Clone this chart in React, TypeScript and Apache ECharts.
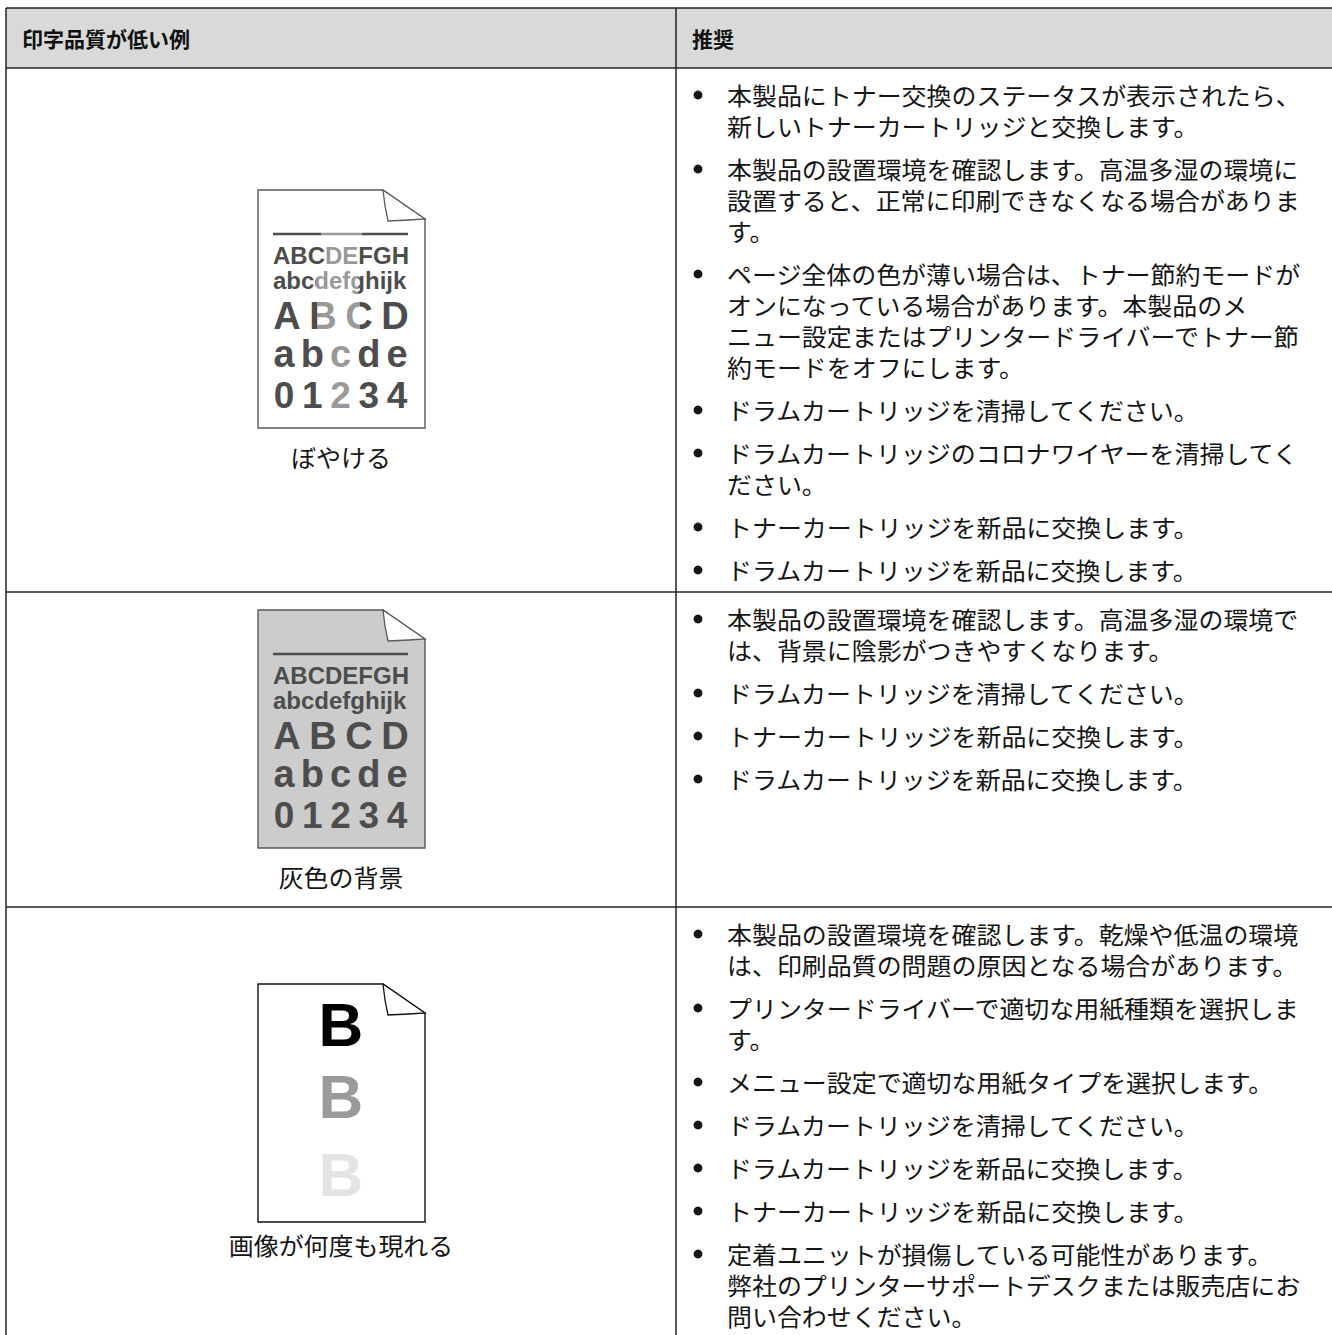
import { useEffect, useRef } from "react";
import * as echarts from "echarts";

// ---- data ----
const headers = ["印字品質が低い例", "推奨"];
const exampleCaptions = ["ぼやける", "灰色の背景", "画像が何度も現れる"];
const row1Advice = [
  ["本製品にトナー交換のステータスが表示されたら、", "新しいトナーカートリッジと交換します。"],
  ["本製品の設置環境を確認します。高温多湿の環境に", "設置すると、正常に印刷できなくなる場合がありま", "す。"],
  ["ページ全体の色が薄い場合は、トナー節約モードが", "オンになっている場合があります。本製品のメ", "ニュー設定またはプリンタードライバーでトナー節", "約モードをオフにします。"],
  ["ドラムカートリッジを清掃してください。"],
  ["ドラムカートリッジのコロナワイヤーを清掃してく", "ださい。"],
  ["トナーカートリッジを新品に交換します。"],
  ["ドラムカートリッジを新品に交換します。"],
];
const row2Advice = [
  ["本製品の設置環境を確認します。高温多湿の環境で", "は、背景に陰影がつきやすくなります。"],
  ["ドラムカートリッジを清掃してください。"],
  ["トナーカートリッジを新品に交換します。"],
  ["ドラムカートリッジを新品に交換します。"],
];
const row3Advice = [
  ["本製品の設置環境を確認します。乾燥や低温の環境", "は、印刷品質の問題の原因となる場合があります。"],
  ["プリンタードライバーで適切な用紙種類を選択しま", "す。"],
  ["メニュー設定で適切な用紙タイプを選択します。"],
  ["ドラムカートリッジを清掃してください。"],
  ["ドラムカートリッジを新品に交換します。"],
  ["トナーカートリッジを新品に交換します。"],
  ["定着ユニットが損傷している可能性があります。", "弊社のプリンターサポートデスクまたは販売店にお", "問い合わせください。"],
];
const sampleLines = ["ABCDEFGH", "abcdefghijk"];
const sampleSpread = [
  ["A", "B", "C", "D"],
  ["a", "b", "c", "d", "e"],
  ["0", "1", "2", "3", "4"],
];
const ghostLetter = "B";
const ghostShades = ["#000000", "#9a9a9a", "#e4e4e4"];

// ---- layout / style ----
const JP = '"Noto Sans CJK JP", "Noto Sans CJK SC", sans-serif';
const LAT = '"Liberation Sans", Arial, sans-serif';
const INK = "#151515";
const BORDER = "#222";
const TL = 6;
const TR = 1345;
const TOP = 8;
const HEAD_B = 68;
const DIV = 676;
const ROW_TOPS = [68, 592, 907];
const BOTTOM = 1345;
const BULLET_X = 698;
const TEXT_X = 727;
const FIRST_OFF = 27;
const LINE_H = 31;
const PARA_GAP = 12;
const PAGE_L = 258;
const PAGE_R = 425;
const PAGE_H = 238;
const PAGE_TOPS = [190, 610, 984];
const CAPTION_Y = [457, 877, 1245];
const CX = 341;

function text(x: number, y: number, s: string, o: any = {}) {
  const align = o.align || "left";
  return {
    type: "text",
    x,
    y,
    scaleX: o.scaleX || 1,
    silent: true,
    z: o.z || 10,
    style: {
      text: s,
      fill: o.fill || INK,
      fontSize: o.size || 24,
      fontFamily: o.family || JP,
      fontWeight: o.weight || "normal",
      align,
      textAlign: align,
      verticalAlign: "middle",
      textVerticalAlign: "middle",
    },
  };
}

function line(x1: number, y1: number, x2: number, y2: number, stroke = BORDER, lw = 1.5, z = 5) {
  return { type: "line", silent: true, z, shape: { x1, y1, x2, y2 }, style: { stroke, lineWidth: lw } };
}

function buildElements() {
  const els: any[] = [];
  // header band
  els.push({ type: "rect", silent: true, z: 1, shape: { x: TL, y: TOP, width: TR - TL, height: HEAD_B - TOP }, style: { fill: "#d9d9d9" } });
  // borders
  els.push(line(TL, TOP, TR, TOP));
  ROW_TOPS.forEach((y) => els.push(line(TL, y, TR, y)));
  els.push(line(TL, TOP, TL, BOTTOM));
  els.push(line(DIV, TOP, DIV, BOTTOM));
  // header texts
  const hy = (TOP + HEAD_B) / 2;
  els.push(text(22, hy, headers[0], { size: 21, weight: "bold", fill: "#111" }));
  els.push(text(692, hy, headers[1], { size: 21, weight: "bold", fill: "#111" }));

  // advice
  const advice = [row1Advice, row2Advice, row3Advice];
  advice.forEach((paras, r) => {
    let y = ROW_TOPS[r] + FIRST_OFF;
    paras.forEach((lines) => {
      els.push({ type: "circle", silent: true, z: 10, shape: { cx: BULLET_X, cy: y, r: 4.4 }, style: { fill: INK } });
      lines.forEach((ln, i) => {
        els.push(text(TEXT_X, y + i * LINE_H, ln, { scaleX: 1.04 }));
      });
      y += lines.length * LINE_H + PARA_GAP;
    });
  });

  // example pages
  PAGE_TOPS.forEach((T, p) => {
    const B = T + PAGE_H;
    const foldX = PAGE_R - 42;
    const foldY = T + 29;
    const stroke = p === 2 ? "#111" : "#5a5a5a";
    const fill = p === 1 ? "#cccccc" : "#ffffff";
    els.push({
      type: "polygon", silent: true, z: 6,
      shape: { points: [[PAGE_L, T], [foldX, T], [PAGE_R, foldY], [PAGE_R, B], [PAGE_L, B]] },
      style: { fill, stroke, lineWidth: 1.4 },
    });
    els.push({
      type: "polygon", silent: true, z: 7,
      shape: { points: [[foldX, T], [foldX + 2, T + 16], [foldX + 5, T + 31], [PAGE_R - 16, T + 30], [PAGE_R, foldY]] },
      style: { fill: "#ffffff", stroke, lineWidth: 1.3 },
    });

    if (p < 2) {
      const dark = "#4d4d4d";
      els.push(line(273, T + 44, 408, T + 44, dark, 2.5, 8));
      els.push(text(273, T + 65, sampleLines[0], { family: LAT, weight: "bold", size: 24, fill: dark }));
      els.push(text(273, T + 90, sampleLines[1], { family: LAT, weight: "bold", size: 24, fill: dark }));
      const spreadY = [T + 126, T + 164, T + 205];
      const spreadX = [[287, 395], [284, 397], [284, 397]];
      const spreadSize = [38, 38, 37];
      sampleSpread.forEach((chars, k) => {
        const [a, b] = spreadX[k];
        const step = (b - a) / (chars.length - 1);
        chars.forEach((c, i) => {
          els.push(text(a + i * step, spreadY[k], c, { family: LAT, weight: "bold", size: spreadSize[k], fill: dark, align: "center" }));
        });
      });
      if (p === 0) {
        // blurred (faded) vertical band: translucent white veil over the page content
        const bands = [
          [321, 362, T + 41, T + 47],
          [325, 359, T + 55, T + 76],
          [316, 358, T + 77, T + 104],
          [317, 360, T + 110, T + 143],
          [329, 352, T + 148, T + 180],
          [329, 352, T + 190, T + 221],
        ];
        bands.forEach(([x0, x1, y0, y1]) => {
          els.push({ type: "rect", silent: true, z: 12, shape: { x: x0, y: y0, width: x1 - x0, height: y1 - y0 }, style: { fill: "rgba(255,255,255,0.43)" } });
        });
      }
    } else {
      const ys = [T + 40, T + 112, T + 190];
      ghostShades.forEach((col, i) => {
        els.push(text(CX, ys[i], ghostLetter, { family: LAT, weight: "bold", size: 62, fill: col, align: "center" }));
      });
    }
    els.push(text(CX, CAPTION_Y[p], exampleCaptions[p], { align: "center", scaleX: 1.04 }));
  });
  return els;
}

export default function App() {
  const ref = useRef<HTMLDivElement>(null);
  useEffect(() => {
    document.body.style.margin = "0";
    document.body.style.overflow = "hidden";
    const chart = echarts.init(ref.current!, null, { renderer: "svg" });
    chart.setOption({
      animation: false,
      backgroundColor: "#ffffff",
      graphic: { elements: buildElements() },
    });
    return () => chart.dispose();
  }, []);
  return <div ref={ref} style={{ width: 1332, height: 1335 }} />;
}
